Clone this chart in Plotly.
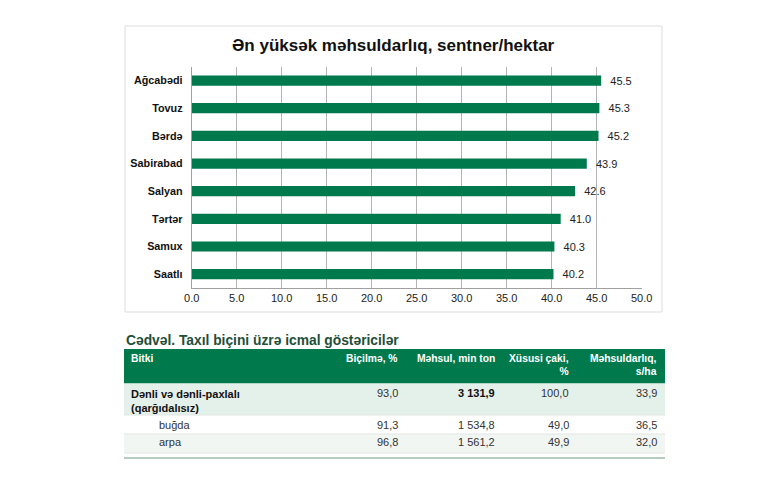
import plotly.graph_objects as go

# chart data
regions = ["Ağcabədi", "Tovuz", "Bərdə", "Sabirabad", "Salyan", "Tərtər", "Samux", "Saatlı"]
yields = [45.5, 45.3, 45.2, 43.9, 42.6, 41.0, 40.3, 40.2]
x_ticks = [0, 5, 10, 15, 20, 25, 30, 35, 40, 45, 50]

# table data
col_headers = ["Bitki", "Biçilmə, %", "Məhsul, min ton", "Xüsusi çaki,<br>%", "Məhsuldarlıq,<br>s/ha"]
crops = ["Dənli və dənli-paxlalı<br>(qarğıdalısız)", "buğda", "arpa"]
bicilme = ["93,0", "91,3", "96,8"]
mehsul = ["3 131,9", "1 534,8", "1 561,2"]
xususi_caki = ["100,0", "49,0", "49,9"]
mehsuldarliq = ["33,9", "36,5", "32,0"]

W, H = 773, 500
GREEN = "#007a4d"
FONT = "Liberation Sans, Arial, sans-serif"

# the page ends up drawn a little narrower than W and shifted right, so map
# screen pixels back to paper fractions with that in mind
OX, WEFF = 8, 754


def px(x):
    return (x - OX) / WEFF


def py(y):
    return 1 - y / H


fig = go.Figure()

fig.add_trace(go.Bar(
    x=yields, y=regions, orientation="h",
    marker=dict(color=GREEN, line=dict(width=0)),
    text=["\u00a0\u00a0" + f"{v:.1f}" for v in yields],
    textposition="outside",
    constraintext="none",
    textfont=dict(size=11, color="#222", family=FONT),
    cliponaxis=False,
    hoverinfo="x+y",
))

shapes = []
annotations = []


def note(text, x, y, xanchor="left", yanchor="middle", size=11, color="#333", align="left"):
    annotations.append(dict(text=text, xref="paper", yref="paper", x=px(x), y=py(y),
                            xanchor=xanchor, yanchor=yanchor, align=align, showarrow=False,
                            font=dict(size=size, color=color, family=FONT)))


# chart frame
shapes.append(dict(type="rect", xref="paper", yref="paper",
                   x0=px(125), x1=px(662), y0=py(312), y1=py(26),
                   line=dict(color="#dddddd", width=1)))

note("<b>Ən yüksək məhsuldarlıq, sentner/hektar</b>", 393, 46, xanchor="center",
     size=17, color="#111")

# table
top, head_bot = 349, 383.5
row_edges = [383.5, 415, 434, 453]
row_bg = ["#e4f0ea", "#ffffff", "#f1f6f3"]
col_right = [398, 495, 569, 657]

note("<b>Cədvəl. Taxıl biçini üzrə icmal göstəricilər</b>", 124, 340, size=13.8, color="#1f4f38")

shapes.append(dict(type="rect", xref="paper", yref="paper", layer="below",
                   x0=px(124), x1=px(665), y0=py(head_bot), y1=py(top),
                   fillcolor=GREEN, line=dict(width=0)))
for i, bg in enumerate(row_bg):
    shapes.append(dict(type="rect", xref="paper", yref="paper", layer="below",
                       x0=px(124), x1=px(665), y0=py(row_edges[i + 1]), y1=py(row_edges[i]),
                       fillcolor=bg, line=dict(width=0)))
    shapes.append(dict(type="line", xref="paper", yref="paper",
                       x0=px(124), x1=px(665), y0=py(row_edges[i + 1]), y1=py(row_edges[i + 1]),
                       line=dict(color="#e2e6e4", width=1)))
shapes.append(dict(type="line", xref="paper", yref="paper",
                   x0=px(124), x1=px(665), y0=py(458), y1=py(458),
                   line=dict(color="#9dbcad", width=1.5)))

note("<b>" + col_headers[0] + "</b>", 129, 351, yanchor="top", size=10.3, color="white")
for h, xr in zip(col_headers[1:], col_right):
    note("<b>" + h + "</b>", xr + 2, 351, xanchor="right", yanchor="top", size=10.3,
         color="white", align="right")

row_text_y = [393, 425, 442]
for i, crop in enumerate(crops):
    if i == 0:
        note("<b>" + crop + "</b>", 129, 386, yanchor="top", color="#111")
    else:
        note(crop, 157, row_text_y[i])
    vals = [bicilme[i], mehsul[i], xususi_caki[i], mehsuldarliq[i]]
    for j, (v, xr) in enumerate(zip(vals, col_right)):
        if i == 0 and j == 1:
            note("<b>" + v + "</b>", xr + 2, row_text_y[i], xanchor="right", color="#111")
        else:
            note(v, xr + 2, row_text_y[i], xanchor="right")

fig.update_layout(
    width=W, height=H, autosize=False,
    margin=dict(l=0, r=0, t=0, b=0),
    paper_bgcolor="white", plot_bgcolor="white",
    showlegend=False,
    bargap=0.63,
    font=dict(family=FONT, color="#222"),
    xaxis=dict(domain=[px(191.7), px(641.7)], range=[0, 50], tickvals=x_ticks,
               tickformat=".1f", showgrid=True, gridcolor="#b4b4b4", gridwidth=1,
               zeroline=False, showline=True, linecolor="#a0a0a0", ticks="",
               tickfont=dict(size=11, color="#222"), fixedrange=True),
    yaxis=dict(domain=[py(288), py(66.7)], autorange="reversed",
               categoryorder="array", categoryarray=regions,
               showline=True, linecolor="#a0a0a0", showgrid=False, ticks="",
               ticksuffix="  ", tickprefix="<b>", tickfont=dict(size=10.8, color="#111"),
               fixedrange=True),
    shapes=shapes,
    annotations=annotations,
)

fig.write_html("out.html", config={"responsive": False, "displayModeBar": False},
               post_script="document.body.style.margin='0';")
